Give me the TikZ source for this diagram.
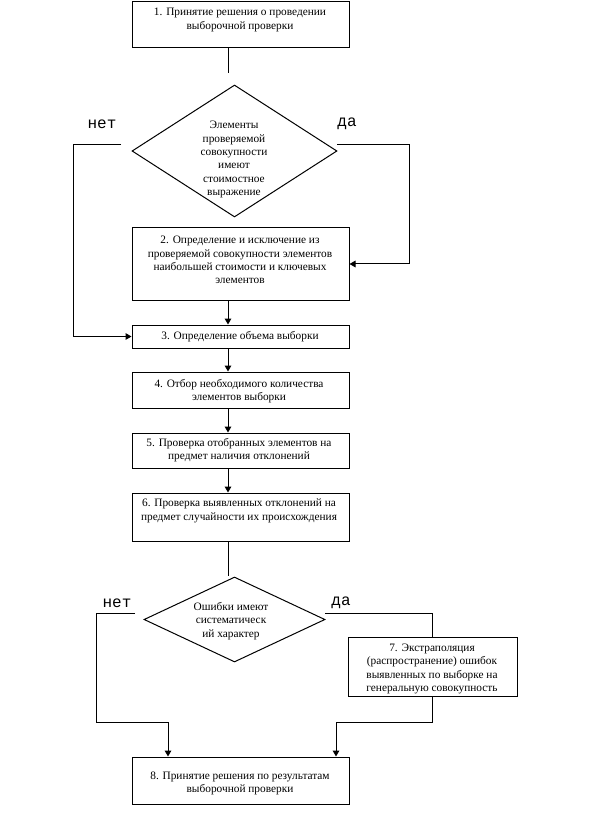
\documentclass[tikz,border=0pt]{standalone}
\usepackage{fontspec}
\setmainfont{Liberation Serif}
\newfontfamily\ynfont{Liberation Mono}
\usetikzlibrary{shapes.geometric,arrows.meta}
\begin{document}
\begin{tikzpicture}[x=0.75pt,y=-0.75pt,
 box/.style={draw, line width=0.75pt, minimum width=162.75pt, inner sep=0pt},
 dia/.style={draw, diamond, inner sep=0pt, line width=0.75pt},
 txt/.style={font=\fontsize{8.5}{10}\selectfont, align=center, inner sep=0pt},
 yn/.style={font=\ynfont\fontsize{12}{12}\selectfont, inner sep=0pt},
 ln/.style={line width=0.75pt},
 arr/.style={ln, -{Triangle[width=5pt,length=4.5pt]}}]
\useasboundingbox (0,0) rectangle (601,830);
% boxes
\node[box, minimum height=34.5pt] (b1) at (240.5,25) {};
\node[box, minimum height=54pt] (b2) at (240.5,264) {};
\node[box, minimum height=17.25pt] (b3) at (240.5,336.5) {};
\node[box, minimum height=27pt] (b4) at (240.5,390) {};
\node[box, minimum height=26.25pt] (b5) at (240.5,450.5) {};
\node[box, minimum height=36pt] (b6) at (240.5,517) {};
\node[box, minimum width=126.75pt, minimum height=44.25pt] (b7) at (432.5,666.5) {};
\node[box, minimum height=35.25pt] (b8) at (240.5,780.5) {};
\node[dia, minimum width=153.75pt, minimum height=99pt] (d1) at (234.5,151) {};
\node[dia, minimum width=135.75pt, minimum height=63.75pt] (d2) at (234.5,619.5) {};
% texts
\node[txt] (t1) at (240,20) {1. Принятие решения о проведении\\выборочной проверки};
\node[txt] (t2) at (240,260) {2. Определение и исключение из\\проверяемой совокупности элементов\\наибольшей стоимости и ключевых\\элементов};
\node[txt] (t3) at (240,337) {3. Определение объема выборки};
\node[txt] (t4) at (239,391) {4. Отбор необходимого количества\\элементов выборки};
\node[txt] (t5) at (239,450) {5. Проверка отобранных элементов на\\предмет наличия отклонений};
\node[txt] (t6) at (239,511) {6. Проверка выявленных отклонений на\\предмет случайности их происхождения};
\node[txt] (t7) at (432,669) {7. Экстраполяция\\(распространение) ошибок\\выявленных по выборке на\\генеральную совокупность};
\node[txt] (t8) at (240,783.5) {8. Принятие решения по результатам\\выборочной проверки};
\node[txt] (td1) at (234,159.5) {Элементы\\проверяемой\\совокупности\\имеют\\стоимостное\\выражение};
\node[txt] (td2) at (231,621) {Ошибки имеют\\систематическ\\ий характер};
\node[yn] (n1l) at (102,124) {нет};
\node[yn] (y1l) at (347,124) {да};
\node[yn] (n2l) at (117,603) {нет};
\node[yn] (y2l) at (341,603) {да};
% connectors
\coordinate (c1) at (228,73);
\draw[ln] (b1.south -| c1) -- (c1);
\coordinate (n1) at (121,145);
\coordinate (n1c) at (73,145);
\draw[arr] (n1) -- (n1c) |- (b3.west);
\coordinate (y1) at (337,145);
\coordinate (y1c) at (409,145);
\draw[arr] (y1) -- (y1c) |- (b2.east);
\draw[arr] (b2.south -| c1) -- (b3.north -| c1);
\draw[arr] (b3.south -| c1) -- (b4.north -| c1);
\draw[arr] (b4.south -| c1) -- (b5.north -| c1);
\draw[arr] (b5.south -| c1) -- (b6.north -| c1);
\coordinate (c2) at (228,576);
\draw[ln] (b6.south -| c2) -- (c2);
\coordinate (n2) at (135,613);
\coordinate (n2c) at (96,613);
\coordinate (m2) at (168,722);
\draw[arr] (n2) -- (n2c) |- (m2) -- (b8.north -| m2);
\coordinate (y2) at (325,613);
\draw[ln] (y2) -| (b7.north);
\coordinate (m3) at (336,722);
\draw[arr] (b7.south) |- (m3) -- (b8.north -| m3);
\end{tikzpicture}
\end{document}
